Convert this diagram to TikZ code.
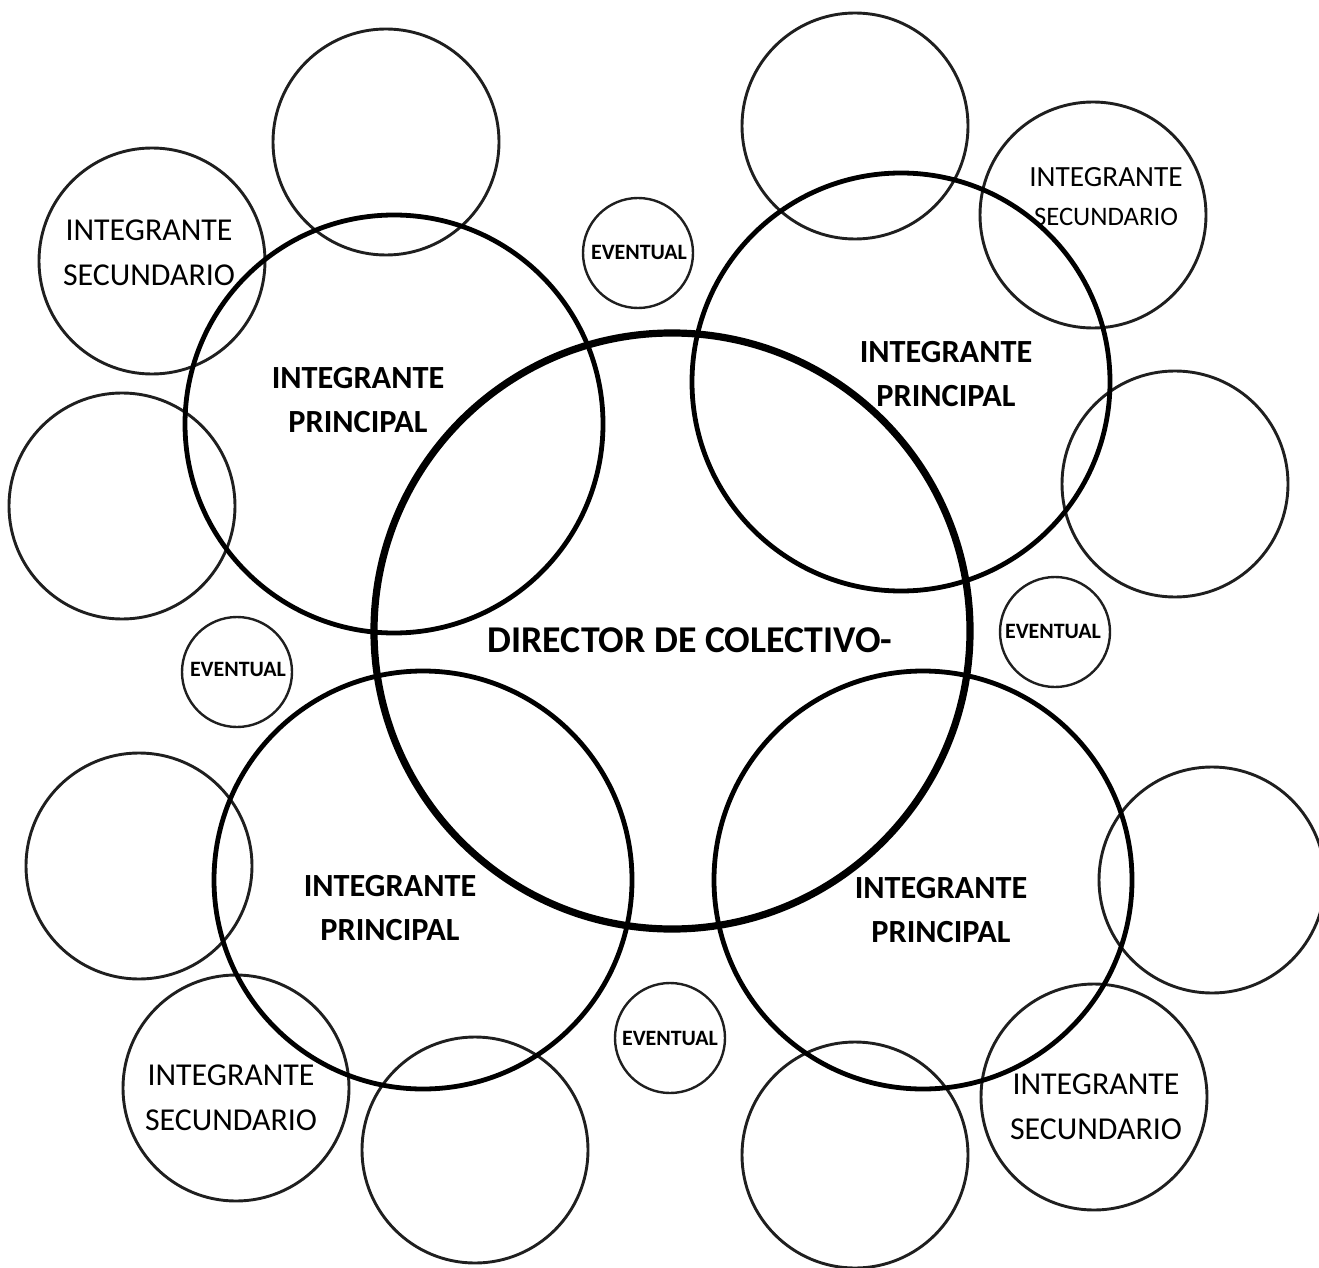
\documentclass[tikz,border=0pt]{standalone}
\usepackage{fontspec}
\setmainfont{Carlito}
\begin{document}
\begin{tikzpicture}[x=0.5bp, y=-0.5bp,
    ring/.style={circle, draw=black!88, inner sep=0pt, minimum size=#1bp},
    director/.style={ring=#1, draw=black, line width=3.6bp},
    principal/.style={ring=#1, draw=black, line width=2.4bp},
    secundario/.style={ring=#1, line width=1.45bp},
    eventual/.style={ring=#1, line width=1.2bp},
    txtsec/.style={align=center, font=\fontsize{16}{22.5}\selectfont},
    txtprin/.style={align=center, font=\bfseries\fontsize{16.2}{22}\selectfont},
    txtev/.style={font=\bfseries\fontsize{11}{12}\selectfont},
    txtdir/.style={font=\bfseries\fontsize{19}{20}\selectfont}]
    % ==== Parameters ====
    \def\RDIR{298}  % radius of the director circle (px)
    \def\RPRIN{209} % radius of the main members
    \def\RSEC{113}  % radius of the secondary members
    \def\REV{55}    % radius of the occasional members

    % Page frame, same size as the reference
    \useasboundingbox (0,0) rectangle (1319,1268);

    % Secondary members (thin circles)
    \foreach \cx/\cy/\nm in {152/261/secA, 386/142/secB, 122/506/secC,
        139/866/secD, 236/1088/secE, 475/1150/secF, 855/1155/secG,
        1094/1097/secH, 1212/880/secI, 1175/484/secJ, 1093/215/secK,
        855/126/secL}{
        \node[secundario=\RSEC] (\nm) at (\cx,\cy) {};
      }

    % Occasional members
    \foreach \cx/\cy/\nm in {638/253/evA, 1055/632/evB, 237/672/evC, 670/1038/evD}{
        \node[eventual=\REV] (\nm) at (\cx,\cy) {};
      }

    % Main members
    \foreach \cx/\cy/\nm in {394/424/prinA, 901/382/prinB, 423/880/prinC, 923/880/prinD}{
        \node[principal=\RPRIN] (\nm) at (\cx,\cy) {};
      }

    % Director of the collective
    \node[director=\RDIR] (dir) at (672,631) {};

    % Labels
    \node[txtdir] (dirlbl) at (690,640) {DIRECTOR DE COLECTIVO-};
    \node[txtprin] (prinAlbl) at (358,400) {INTEGRANTE\\PRINCIPAL};
    \node[txtprin] (prinBlbl) at (946,374) {INTEGRANTE\\PRINCIPAL};
    \node[txtprin] (prinClbl) at (390,908) {INTEGRANTE\\PRINCIPAL};
    \node[txtprin] (prinDlbl) at (941,910) {INTEGRANTE\\PRINCIPAL};
    \node[txtsec] (secAlbl) at (149,253) {INTEGRANTE\\SECUNDARIO};
    \node[txtsec] (secElbl) at (231,1098) {INTEGRANTE\\SECUNDARIO};
    \node[txtsec] (secHlbl) at (1096,1107) {INTEGRANTE\\SECUNDARIO};
    \node[align=center, font=\fontsize{14.7}{19.5}\selectfont] (secKlbl) at (1106,197)
        {INTEGRANTE\\{\fontsize{13.4}{19.5}\selectfont SECUNDARIO}};
    \foreach \cx/\cy/\nm in {639/252/evAlbl, 1053/631/evBlbl, 238/669/evClbl, 670/1038/evDlbl}{
        \node[txtev] (\nm) at (\cx,\cy) {EVENTUAL};
      }
  \end{tikzpicture}
\end{document}
